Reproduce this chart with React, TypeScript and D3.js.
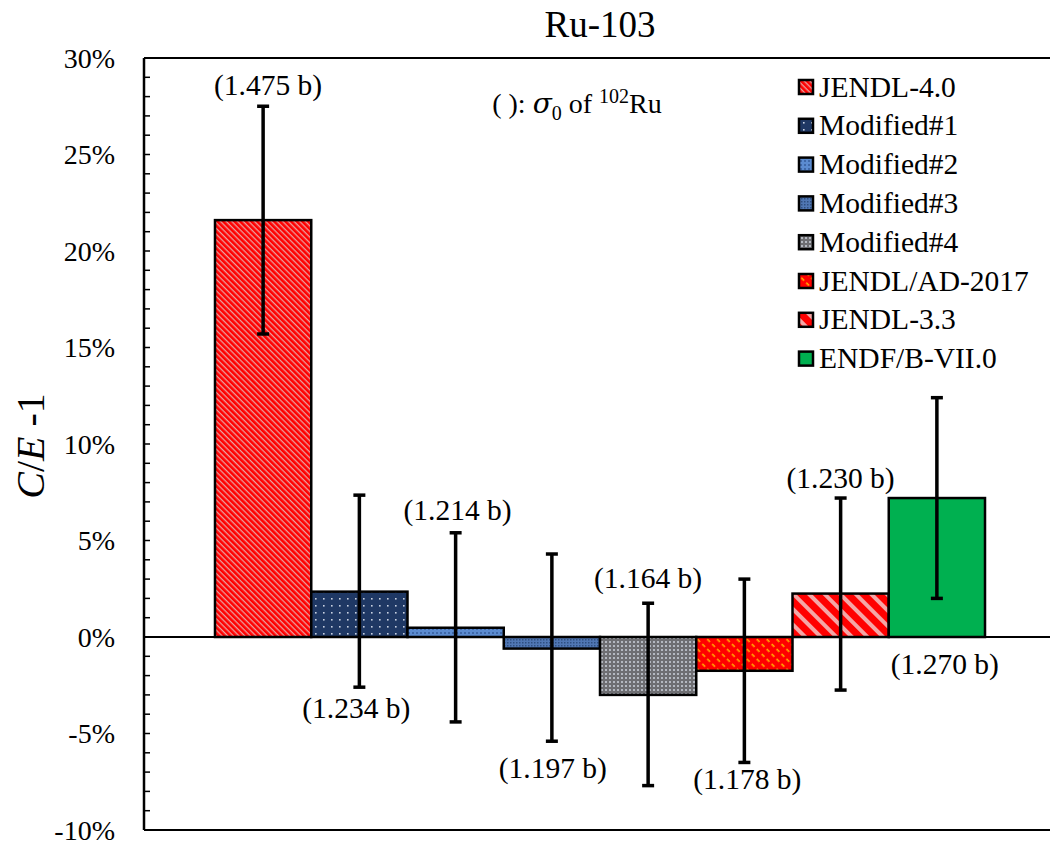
import React from "react";
import * as d3 from "d3";

const categories = ["Ru-103"];
const series = ["JENDL-4.0", "Modified#1", "Modified#2", "Modified#3", "Modified#4", "JENDL/AD-2017", "JENDL-3.3", "ENDF/B-VII.0"];
const values = [21.6, 2.35, 0.48, -0.6, -3.0, -1.75, 2.25, 7.2];
const errHigh = [27.5, 7.35, 5.4, 4.3, 1.75, 3.0, 7.2, 12.4];
const errLow = [15.7, -2.6, -4.4, -5.4, -7.7, -6.5, -2.75, 2.0];
const sigmaLabels = ["(1.475 b)", "(1.234 b)", "(1.214 b)", "(1.197 b)", "(1.164 b)", "(1.178 b)", "(1.230 b)", "(1.270 b)"];
// label baseline positions, in chart units (%)
const labelAt = [28.1, -4.2, 6.06, -7.3, 2.54, -7.9, 7.72, -1.92];
const yTicks = [-10, -5, 0, 5, 10, 15, 20, 25, 30];
const fills = ["url(#pJ40)", "url(#pM1)", "url(#pM2)", "url(#pM3)", "url(#pM4)", "url(#pAD)", "url(#pJ33)", "#00B050"];

const W = 1050, H = 844;
const plot = { left: 144, right: 1056, top: 58, bottom: 830 };
const font = "'Liberation Serif', 'Times New Roman', serif";
const labelDx = [5, -3, 2, 1, 0, 3, 0, 8];

export default function App() {
  const y = d3.scaleLinear().domain([-10, 30]).range([plot.bottom, plot.top]);
  const x0 = d3.scaleBand().domain(categories).range([plot.left, plot.right]).paddingInner(0).paddingOuter(0.0922);
  const x1 = d3.scaleBand().domain(series).range([x0(categories[0])!, x0(categories[0])! + x0.bandwidth()]);
  const bw = x1.bandwidth();
  const minor = d3.range(-10, 31, 1);

  return (
    <svg width={W} height={H} style={{ position: "absolute", left: 0, top: 0, background: "#fff" }} fontFamily={font}>
      <defs>
        <pattern id="pJ40" width="4" height="4" patternUnits="userSpaceOnUse" patternTransform="rotate(45)">
          <rect width="4" height="4" fill="#ff0000" />
          <rect width="4" height="1.3" fill="#e8a0a0" />
        </pattern>
        <pattern id="pJ33" width="11" height="11" patternUnits="userSpaceOnUse" patternTransform="rotate(45)">
          <rect width="11" height="11" fill="#ff0000" />
          <rect width="11" height="4" fill="#f4a6a6" />
        </pattern>
        <pattern id="pAD" width="7" height="7" patternUnits="userSpaceOnUse" patternTransform="rotate(45)">
          <rect width="7" height="7" fill="#ff0000" />
          <rect x="0" y="0" width="4" height="1.6" fill="#ffaa00" />
        </pattern>
        <pattern id="pM1" width="8" height="7" patternUnits="userSpaceOnUse">
          <rect width="8" height="7" fill="#1f3864" />
          <rect x="3" y="3" width="1.6" height="1.6" fill="#c8d0e0" />
        </pattern>
        <pattern id="pM2" width="4" height="4" patternUnits="userSpaceOnUse">
          <rect width="4" height="4" fill="#5b8bd0" />
          <rect x="0" y="0" width="2" height="2" fill="#3f68a8" />
        </pattern>
        <pattern id="pM3" width="3" height="3" patternUnits="userSpaceOnUse">
          <rect width="3" height="3" fill="#5077b4" />
          <rect x="0" y="0" width="1.5" height="1.5" fill="#2f4f80" />
        </pattern>
        <pattern id="pM4" width="4" height="4" patternUnits="userSpaceOnUse">
          <rect width="4" height="4" fill="#6e6e72" />
          <rect x="1" y="1" width="2" height="2" fill="#b4b8c0" />
        </pattern>
      </defs>

      {/* title */}
      <text x={600} y={37} textAnchor="middle" fontSize={37}>{categories[0]}</text>

      {/* plot frame */}
      <line x1={plot.left} x2={plot.right} y1={plot.top} y2={plot.top} stroke="#000" strokeWidth={2} />
      <line x1={plot.left} x2={plot.right} y1={plot.bottom} y2={plot.bottom} stroke="#000" strokeWidth={2} />
      <line x1={plot.left} x2={plot.left} y1={plot.top} y2={plot.bottom} stroke="#000" strokeWidth={2.5} />

      {/* ticks */}
      {minor.map((t) => (
        <line key={"m" + t} x1={plot.left} x2={plot.left + 6} y1={y(t)} y2={y(t)} stroke="#000" strokeWidth={1.5} />
      ))}
      {yTicks.map((t) => (
        <text key={"t" + t} x={115} y={y(t) + 9.5} textAnchor="end" fontSize={28}>{t + "%"}</text>
      ))}

      {/* y label */}
      <text transform={`translate(44,${446}) rotate(-90)`} textAnchor="middle" fontSize={40}>
        <tspan fontStyle="italic">C</tspan>/<tspan fontStyle="italic">E</tspan> -1
      </text>

      {/* bars */}
      {series.map((s, i) => {
        const v = values[i];
        const xx = x1(s)!;
        return (
          <rect key={s} x={xx} width={bw} y={y(Math.max(0, v))} height={Math.abs(y(v) - y(0))}
            fill={fills[i]} stroke="#000" strokeWidth={2.5} />
        );
      })}

      {/* zero line */}
      <line x1={plot.left} x2={plot.right} y1={y(0)} y2={y(0)} stroke="#000" strokeWidth={2} />

      {/* error bars */}
      {series.map((s, i) => {
        const cx = x1(s)! + bw / 2;
        return (
          <g key={"e" + s} stroke="#000" strokeWidth={3.5}>
            <line x1={cx} x2={cx} y1={y(errHigh[i])} y2={y(errLow[i])} />
            <line x1={cx - 6} x2={cx + 6} y1={y(errHigh[i])} y2={y(errHigh[i])} />
            <line x1={cx - 6} x2={cx + 6} y1={y(errLow[i])} y2={y(errLow[i])} />
          </g>
        );
      })}

      {/* sigma labels */}
      {series.map((s, i) => (
        <text key={"l" + s} x={x1(s)! + bw / 2 + labelDx[i]} y={y(labelAt[i])} textAnchor="middle" fontSize={29.5}>
          {sigmaLabels[i]}
        </text>
      ))}

      {/* note */}
      <text x={577} y={113} textAnchor="middle" fontSize={28}>
        ( ): <tspan fontStyle="italic" fontFamily="'DejaVu Serif', serif">σ</tspan><tspan dy={7} fontSize={20}>0</tspan>
        <tspan dy={-7}> of </tspan><tspan dy={-10} fontSize={20}>102</tspan><tspan dy={10}>Ru</tspan>
      </text>

      {/* legend */}
      {series.map((s, i) => {
        const cy = 87 + i * 38.8;
        return (
          <g key={"lg" + s}>
            <rect x={799} y={cy - 7} width={14} height={14} fill={fills[i]} stroke="#000" strokeWidth={2.5} />
            <text x={819} y={cy + 9.5} fontSize={29.5}>{s}</text>
          </g>
        );
      })}
    </svg>
  );
}
